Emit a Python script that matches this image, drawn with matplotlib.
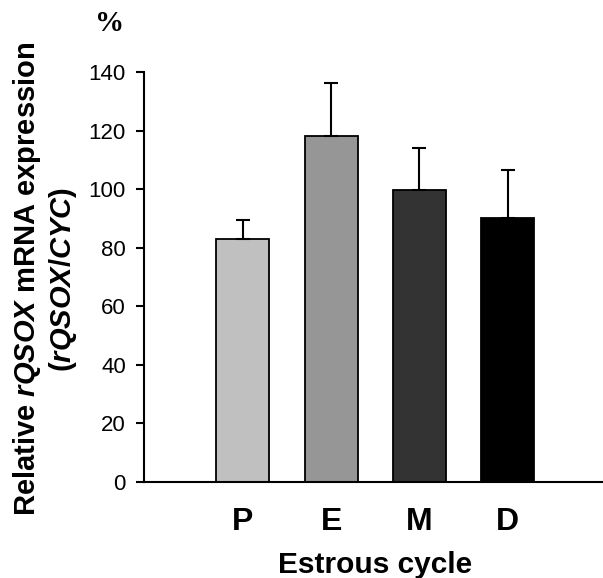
import matplotlib
matplotlib.use("Agg")
import matplotlib.pyplot as plt

# Data
stages = ["P", "E", "M", "D"]
expression = [83.0, 118.0, 99.7, 90.2]
sem = [6.4, 18.4, 14.5, 16.4]
bar_colors = ["#c0c0c0", "#969696", "#333333", "#000000"]
yticks = [0, 20, 40, 60, 80, 100, 120, 140]

plt.rcParams['font.family'] = ['Liberation Sans', 'DejaVu Sans']
plt.rcParams['mathtext.fontset'] = 'custom'
plt.rcParams['mathtext.rm'] = 'Liberation Sans:bold'
plt.rcParams['mathtext.bf'] = 'Liberation Sans:bold'
plt.rcParams['mathtext.it'] = 'Liberation Sans:italic:bold'
plt.rcParams['mathtext.bfit'] = 'Liberation Sans:italic:bold'

fig = plt.figure(figsize=(6.03, 5.78), dpi=100)
ax = fig.add_axes([0.2388, 0.166, 0.7612, 0.7094])

x = list(range(len(stages)))
ax.bar(x, expression, width=0.6, color=bar_colors, edgecolor="black",
       linewidth=1.3, zorder=2)
ax.errorbar(x, expression, yerr=[[0] * len(sem), sem], fmt="none",
            ecolor="black", elinewidth=1.5, capsize=5.3, capthick=1.5, zorder=3)

ax.set_xlim(-1.12, 4.08)
ax.set_ylim(0, 140)
ax.set_yticks(yticks)
ax.set_xticks(x)
ax.set_xticklabels(stages, fontsize=23, fontweight="bold")
ax.tick_params(axis="x", length=0, pad=18)
ax.tick_params(axis="y", direction="out", length=6, width=1.5,
               labelsize=16, pad=7)

for s in ["top", "right"]:
    ax.spines[s].set_visible(False)
ax.spines["left"].set_linewidth(1.5)
ax.spines["bottom"].set_linewidth(1.5)

# axis titles
fig.text(0.045, 0.517, "Relative $\\mathit{rQSOX}$ mRNA expression",
         rotation=90, ha="center", va="center", fontsize=21, fontweight="bold")
fig.text(0.105, 0.516, "($\\mathit{rQSOX/CYC}$)",
         rotation=90, ha="center", va="center", fontsize=21, fontweight="bold")
fig.text(0.622, 0.008, "Estrous cycle", ha="center", va="baseline",
         fontsize=21.5, fontweight="bold")
fig.text(0.182, 0.96, "%", ha="center", va="center", fontsize=21,
         fontweight="bold", family="Liberation Serif")

fig.savefig("out.png", dpi=100)
